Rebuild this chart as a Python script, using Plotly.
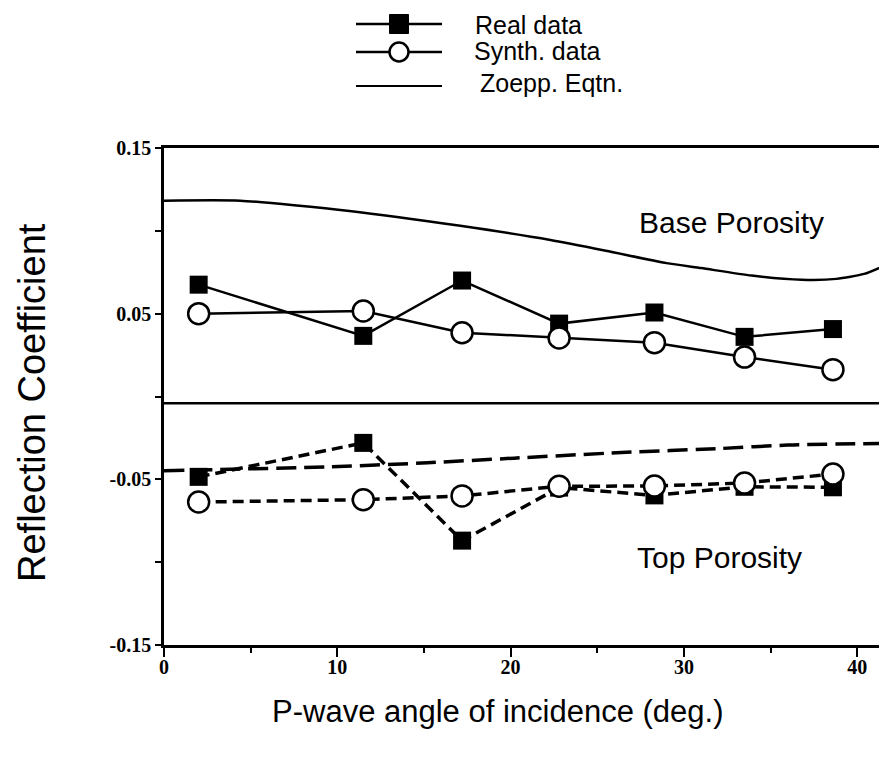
import plotly.graph_objects as go

# ---------------- data ----------------
angles = [2.0, 11.5, 17.2, 22.8, 28.3, 33.5, 38.6]

base_real = [0.0675, 0.0366, 0.0700, 0.0440, 0.0507, 0.0360, 0.0407]
base_synth = [0.0500, 0.0516, 0.0385, 0.0353, 0.0325, 0.0238, 0.0162]

top_real = [-0.0485, -0.0280, -0.0870, -0.0550, -0.0597, -0.0545, -0.0548]
top_synth = [-0.0637, -0.0623, -0.0600, -0.0542, -0.0540, -0.0522, -0.0468]

zoepp_base_ang = [0.0, 4.4, 10.7, 17.1, 22.3, 25.5, 29.0, 31.0, 33.9, 36.8, 38.8, 40.4, 41.8]
zoepp_base = [0.1182, 0.1182, 0.1120, 0.1030, 0.0945, 0.0880, 0.0805, 0.0775, 0.0730, 0.0705, 0.0710, 0.0740, 0.0800]

zoepp_top_ang = [0.0, 9.4, 15.2, 20.2, 26.4, 32.1, 36.0, 41.8]
zoepp_top = [-0.0448, -0.0425, -0.0400, -0.0372, -0.0338, -0.0314, -0.0293, -0.0283]

x_ticks = [0, 10, 20, 30, 40]
y_ticks = [-0.15, -0.05, 0.05, 0.15]
y_ticklabels = ["-0.15", "-0.05", "0.05", "0.15"]

legend_labels = ["Real data", "Synth. data", "Zoepp. Eqtn."]

# ---------------- figure ----------------
fig = go.Figure()

fig.add_trace(go.Scatter(x=zoepp_base_ang, y=zoepp_base, mode="lines",
                         line=dict(color="black", width=2.5, shape="spline", smoothing=0.6),
                         showlegend=False))
fig.add_trace(go.Scatter(x=zoepp_top_ang, y=zoepp_top, mode="lines",
                         line=dict(color="black", width=3.5, dash="20px,8px", shape="spline", smoothing=0.6),
                         showlegend=False))

fig.add_trace(go.Scatter(x=angles, y=base_real, mode="lines+markers",
                         line=dict(color="black", width=2.5),
                         marker=dict(symbol="square", size=18, color="black"),
                         showlegend=False))
fig.add_trace(go.Scatter(x=angles, y=base_synth, mode="lines+markers",
                         line=dict(color="black", width=2.5),
                         marker=dict(symbol="circle", size=21, color="white",
                                     line=dict(color="black", width=2.5)),
                         showlegend=False))

fig.add_trace(go.Scatter(x=angles, y=top_real, mode="lines+markers",
                         line=dict(color="black", width=3.5, dash="11px,6px"),
                         marker=dict(symbol="square", size=18, color="black"),
                         showlegend=False))
fig.add_trace(go.Scatter(x=angles, y=top_synth, mode="lines+markers",
                         line=dict(color="black", width=3.5, dash="11px,6px"),
                         marker=dict(symbol="circle", size=21, color="white",
                                     line=dict(color="black", width=2.5)),
                         showlegend=False))

# pixel geometry (window coordinates); page body has an 8px offset
OFF = 8
FW, FH = 887 - OFF, 761 - OFF
L, R, T, B = 164, 887, 148, 645
W, H = R - L, B - T


def px(xp):
    return (xp - L) / W


def py(yp):
    return (B - yp) / H


shapes = []
# horizontal separator line
shapes.append(dict(type="line", xref="paper", yref="y", x0=0, x1=1, y0=-0.004, y1=-0.004,
                   line=dict(color="black", width=2.5)))

# custom legend
rows = [24, 52, 86]
text_rows = [25, 51, 83]
text_x = [473, 472, 478]
for i, yy in enumerate(rows):
    shapes.append(dict(type="line", xref="paper", yref="paper",
                       x0=px(356), x1=px(442), y0=py(yy), y1=py(yy),
                       line=dict(color="black", width=2.5 if i < 2 else 2)))
shapes.append(dict(type="rect", xref="paper", yref="paper", xsizemode="pixel", ysizemode="pixel",
                   xanchor=px(399), yanchor=py(rows[0]), x0=-9.5, x1=9.5, y0=-9.5, y1=9.5,
                   fillcolor="black", line=dict(color="black", width=1)))
shapes.append(dict(type="circle", xref="paper", yref="paper", xsizemode="pixel", ysizemode="pixel",
                   xanchor=px(399), yanchor=py(rows[1]), x0=-9.5, x1=9.5, y0=-9.5, y1=9.5,
                   fillcolor="white", line=dict(color="black", width=2.5)))

sans = "Liberation Sans, Arial"
annotations = []
for i, lab in enumerate(legend_labels):
    annotations.append(dict(text=lab, xref="paper", yref="paper", x=px(text_x[i]), y=py(text_rows[i]),
                            xanchor="left", yanchor="middle", showarrow=False,
                            font=dict(family=sans, size=25, color="black")))

annotations.append(dict(text="Base Porosity", xref="paper", yref="paper", x=px(731), y=py(222),
                        xanchor="center", yanchor="middle", showarrow=False,
                        font=dict(family=sans, size=30, color="black")))
annotations.append(dict(text="Top Porosity", xref="paper", yref="paper", x=px(719), y=py(557),
                        xanchor="center", yanchor="middle", showarrow=False,
                        font=dict(family=sans, size=30, color="black")))
annotations.append(dict(text="P-wave angle of incidence (deg.)", xref="paper", yref="paper",
                        x=px(497), y=py(712), xanchor="center", yanchor="middle", showarrow=False,
                        font=dict(family=sans, size=31, color="black")))
annotations.append(dict(text="Reflection Coefficient", xref="paper", yref="paper",
                        x=px(32), y=py(403), xanchor="center", yanchor="middle", showarrow=False,
                        textangle=-90,
                        font=dict(family=sans, size=38, color="black")))

tickfont = dict(family="Liberation Serif, Times New Roman", size=20, color="black", weight="bold")

fig.update_layout(
    width=FW, height=FH,
    margin=dict(l=L - OFF, r=0, t=T - OFF, b=FH - (B - OFF), pad=0),
    paper_bgcolor="white", plot_bgcolor="white",
    shapes=shapes, annotations=annotations,
    showlegend=False,
    xaxis=dict(range=[0, W / 17.33], showgrid=False, zeroline=False,
               showline=True, mirror=True, linecolor="black", linewidth=2.5,
               tickvals=x_ticks, ticktext=[str(v) for v in x_ticks],
               ticks="outside", ticklen=9, tickwidth=2, tickcolor="black",
               ticklabelstandoff=-7,
               minor=dict(dtick=5, tick0=0, ticks="outside", ticklen=5, tickwidth=1.5, tickcolor="black"),
               tickfont=tickfont),
    yaxis=dict(range=[-0.15, 0.15], showgrid=False, zeroline=False,
               showline=True, mirror=False, linecolor="black", linewidth=2.5,
               tickvals=y_ticks, ticktext=y_ticklabels,
               ticks="outside", ticklen=6, tickwidth=2, tickcolor="black",
               minor=dict(dtick=0.05, tick0=0, ticks="outside", ticklen=6, tickwidth=2, tickcolor="black"),
               tickfont=tickfont),
)

fig.write_html("out.html")
